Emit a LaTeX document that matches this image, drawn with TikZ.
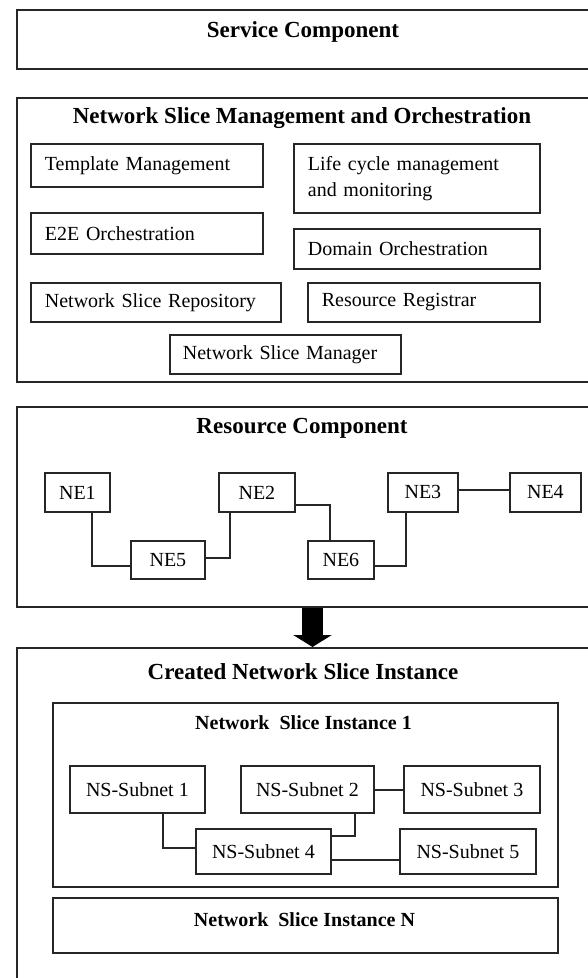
\documentclass[tikz,border=0pt]{standalone}
\usepackage{fontspec}
\setmainfont{Liberation Serif}
\usetikzlibrary{arrows.meta}
\tikzset{
  frame/.style={draw=black!85, line width=1.8pt, inner sep=0pt, anchor=north west},
  lbox/.style={frame, inner xsep=14pt, align=left, font=\fontsize{20}{26}\selectfont},
  cbox/.style={frame, align=center, font=\fontsize{20}{24}\selectfont},
  bigtitle/.style={inner sep=0pt, font=\fontsize{23}{28}\selectfont\bfseries},
  subtitle/.style={inner sep=0pt, font=\fontsize{20}{24}\selectfont\bfseries},
  link/.style={draw=black!85, line width=1.8pt},
}
\begin{document}
\begin{tikzpicture}[x=1pt,y=-1pt]
\useasboundingbox[fill=white] (0,0) rectangle (588,978);
\clip (0,0) rectangle (588,978);

% outer frames
\node[frame, minimum width=584pt, minimum height=59pt] (service) at (16,9) {};
\node[frame, minimum width=584pt, minimum height=284pt] (nsmo) at (16,97) {};
\node[frame, minimum width=584pt, minimum height=200pt] (res) at (16,406) {};
\node[frame, minimum width=584pt, minimum height=360pt] (created) at (16,647) {};

% titles
\node[bigtitle] (tservice) at (303,32) {Service Component};
\node[bigtitle] (tnsmo) at (302,118) {Network Slice Management and Orchestration};
\node[bigtitle] (tres) at (302,428) {Resource Component};
\node[bigtitle] (tcreated) at (303,672) {Created Network Slice Instance};

% NSMO contents
\node[lbox, text width=204pt, minimum height=43pt] (tm) at (30,143) {Template Management};
\node[lbox, text width=218pt, minimum height=69pt] (lc) at (293,143) {Life cycle management\\and monitoring};
\node[lbox, text width=204pt, minimum height=41pt] (e2e) at (30,212) {E2E Orchestration};
\node[lbox, text width=218pt, minimum height=40pt] (dom) at (293,228) {Domain Orchestration};
\node[lbox, text width=222pt, minimum height=39pt] (repo) at (30,282) {Network Slice Repository};
\node[lbox, text width=204pt, minimum height=39pt] (reg) at (307,282) {Resource Registrar};
\node[lbox, inner xsep=13pt, text width=205pt, minimum height=39pt] (mgr) at (169,334) {Network Slice Manager};

% Resource component
\node[cbox, minimum width=65pt, minimum height=39pt] (ne1) at (44,472) {NE1};
\node[cbox, minimum width=76pt, minimum height=39pt] (ne2) at (218,472) {NE2};
\node[cbox, minimum width=70pt, minimum height=39pt] (ne3) at (387,472) {NE3};
\node[cbox, minimum width=71pt, minimum height=39pt] (ne4) at (509,472) {NE4};
\node[cbox, minimum width=74pt, minimum height=38pt] (ne5) at (130,540) {NE5};
\node[cbox, minimum width=66pt, minimum height=38pt] (ne6) at (307,540) {NE6};

\coordinate (c1) at (92,566);
\coordinate (c2) at (230,558);
\coordinate (c3) at (330,505);
\coordinate (c4) at (406,566);
\coordinate (c0) at (0,490);
\draw[link] (ne1.south -| c1) |- (ne5.west |- c1);
\draw[link] (ne5.east |- c2) -| (ne2.south -| c2);
\draw[link] (ne2.east |- c3) -| (ne6.north -| c3);
\draw[link] (ne6.east |- c4) -| (ne3.south -| c4);
\draw[link] (ne3.east |- c0) -- (ne4.west |- c0);

% arrow
\coordinate (ax) at (312.5,0);
\draw[black, line width=21pt, -{Triangle[length=12pt,width=38pt]}] (ax |- res.south) -- (ax |- created.north);

% Created network slice instance
\node[frame, minimum width=505pt, minimum height=184pt] (nsi1) at (52,702) {};
\node[subtitle] (tnsi1) at (303.5,723) {Network\ \ Slice Instance 1};
\node[cbox, minimum width=135pt, minimum height=47pt] (s1) at (69,765) {NS-Subnet 1};
\node[cbox, minimum width=133pt, minimum height=47pt] (s2) at (240,765) {NS-Subnet 2};
\node[cbox, minimum width=136pt, minimum height=47pt] (s3) at (403,765) {NS-Subnet 3};
\node[cbox, minimum width=135pt, minimum height=45pt] (s4) at (195,828) {NS-Subnet 4};
\node[cbox, minimum width=136pt, minimum height=45pt] (s5) at (399,828) {NS-Subnet 5};

\coordinate (c5) at (163,848);
\coordinate (c6) at (355,836);
\coordinate (c7) at (0,790);
\coordinate (c8) at (0,860);
\draw[link] (s1.south -| c5) |- (s4.west |- c5);
\draw[link] (s2.south -| c6) |- (s4.east |- c6);
\draw[link] (s2.east |- c7) -- (s3.west |- c7);
\draw[link] (s4.east |- c8) -- (s5.west |- c8);

\node[frame, minimum width=505pt, minimum height=55pt] (nsin) at (52,897) {};
\node[subtitle] (tnsin) at (304.5,920) {Network\ \ Slice Instance N};
\end{tikzpicture}
\end{document}
